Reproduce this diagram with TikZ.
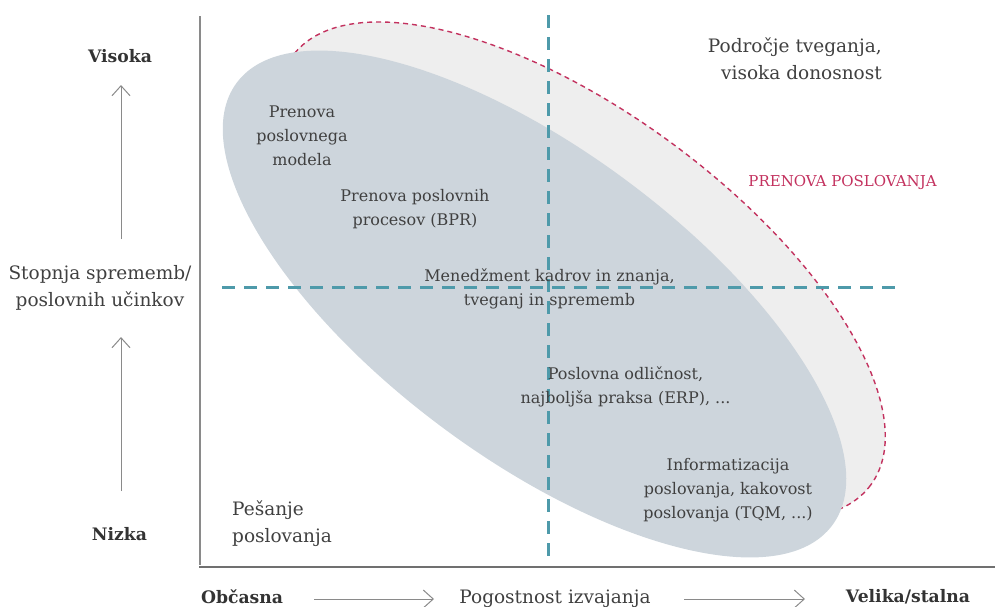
\documentclass[tikz,border=0pt]{standalone}
\usepackage{fontspec}
\setmainfont{DejaVu Serif}
\usetikzlibrary{arrows.meta}
\definecolor{txt}{HTML}{404040}
\definecolor{boldtxt}{HTML}{333333}
\definecolor{bluefill}{HTML}{CDD5DC}
\definecolor{grayfill}{HTML}{EEEEEE}
\definecolor{crim}{HTML}{C3325F}
\definecolor{tealdash}{HTML}{4E9AAA}
\definecolor{axisgray}{HTML}{8A8A8A}
\definecolor{baseaxis}{HTML}{707070}
\tikzset{
  outertext/.style={text=txt, font=\fontsize{18.5}{27}\selectfont, align=center, inner sep=0pt},
  innertext/.style={text=txt, font=\fontsize{16}{24}\selectfont, align=center, inner sep=0pt},
  boldlabel/.style={text=boldtxt, font=\fontsize{17.2}{20}\selectfont\bfseries, inner sep=0pt},
  redlabel/.style={text=crim, font=\fontsize{15}{18}\selectfont, inner sep=0pt},
  axisline/.style={draw=axisgray, line width=1.5pt},
  baseline/.style={draw=baseaxis, line width=1.5pt},
  arrowline/.style={draw=axisgray, line width=1pt, -{Straight Barb[length=10pt,width=18pt]}},
  quadline/.style={draw=tealdash, line width=3pt, dash pattern=on 13pt off 9pt},
  riskarea/.style={fill=grayfill, draw=crim, line width=1.4pt, dash pattern=on 5pt off 4pt},
  mainarea/.style={fill=bluefill},
}
\begin{document}
\begin{tikzpicture}[x=1pt,y=-1pt]
\useasboundingbox (0,0) rectangle (995,606);
% areas
\begin{scope}[shift={(581.6,270.5)}, rotate=-36.6]
  \path[riskarea] (0,0) ellipse [x radius=360, y radius=156];
\end{scope}
\begin{scope}[shift={(534.5,304)}, rotate=-36.6]
  \path[mainarea] (0,0) ellipse [x radius=371, y radius=154];
\end{scope}
% quadrant lines
\coordinate (qvt) at (548,15);
\coordinate (qvb) at (548,560);
\coordinate (qhl) at (222,287);
\coordinate (qhr) at (900,287);
\draw[quadline] (qvt) -- (qvb);
\draw[quadline] (qhl) -- (qhr);
% axes
\coordinate (yaxt) at (200,16);
\coordinate (yaxb) at (200,565);
\coordinate (xaxl) at (199,567);
\coordinate (xaxr) at (995,567);
\draw[axisline] (yaxt) -- (yaxb);
\draw[baseline] (xaxl) -- (xaxr);
% arrows
\coordinate (a1s) at (121,239);
\coordinate (a1e) at (121,85);
\coordinate (a2s) at (121,491);
\coordinate (a2e) at (121,337);
\coordinate (a3s) at (314,599);
\coordinate (a3e) at (434,599);
\coordinate (a4s) at (684,599);
\coordinate (a4e) at (805,599);
\draw[arrowline] (a1s) -- (a1e);
\draw[arrowline] (a2s) -- (a2e);
\draw[arrowline] (a3s) -- (a3e);
\draw[arrowline] (a4s) -- (a4e);
% labels
\node[boldlabel, anchor=base] (vis) at (120,62.3) {Visoka};
\node[boldlabel, anchor=base] (niz) at (119.5,540) {Nizka};
\node[outertext] (stop) at (100,288) {Stopnja sprememb/\\poslovnih učinkov};
\node[boldlabel, anchor=base] (obc) at (242,603) {Občasna};
\node[outertext, anchor=base] (pog) at (555,603) {Pogostnost izvajanja};
\node[boldlabel, anchor=base] (vel) at (908,602) {Velika/stalna};
\node[outertext, align=right, anchor=east] (podr) at (882,59) {Področje tveganja,\\visoka donosnost};
\node[outertext, align=left, anchor=west] (pesa) at (232,523.7) {Pešanje\\poslovanja};
\node[redlabel, anchor=base] (prp) at (842.5,186.7) {PRENOVA POSLOVANJA};
\node[innertext] (prm) at (302,135.3) {Prenova\\poslovnega\\modela};
\node[innertext] (bpr) at (415,208.8) {Prenova poslovnih\\procesov (BPR)};
\node[innertext] (men) at (549.5,289.2) {Menedžment kadrov in znanja,\\tveganj in sprememb};
\node[innertext] (odl) at (625.5,386.6) {Poslovna odličnost,\\najboljša praksa (ERP), ...};
\node[innertext] (inf) at (728,490.2) {Informatizacija\\poslovanja, kakovost\\poslovanja (TQM, ...)};
\end{tikzpicture}
\end{document}
